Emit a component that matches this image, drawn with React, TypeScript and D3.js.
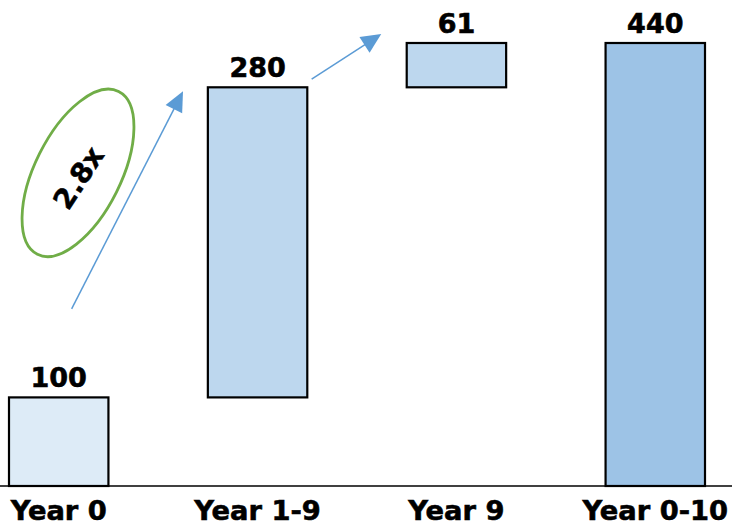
import React from "react";
import * as d3 from "d3";

const categories = ["Year 0", "Year 1-9", "Year 9", "Year 0-10"];
const barBase = [0, 88, 396, 0];
const barTop = [88, 396, 440, 440];
const valueLabels = ["100", "280", "61", "440"];
const barFills = ["#ddebf7", "#bdd7ee", "#bdd7ee", "#9dc3e6"];

// annotation arrows in (category-index, value) space
const arrows = [
  { from: [0.065, 176], to: [0.625, 392] },
  { from: [1.272, 404], to: [1.622, 449] },
];
const ellipseCenter = [0.097, 311];
const multipleLabel = "2.8x";

const W = 732;
const H = 526;

export default function App() {
  const x = d3.scaleBand<string>().domain(categories).range([9, 705]).paddingInner(0.5).paddingOuter(0);
  const y = d3.scaleLinear().domain([0, 440]).range([486, 43]);
  const bw = x.bandwidth();
  const ix = d3
    .scaleLinear()
    .domain([0, categories.length - 1])
    .range([(x(categories[0]) as number) + bw / 2, (x(categories[categories.length - 1]) as number) + bw / 2]);

  const font = "'DejaVu Sans', Verdana, sans-serif";
  const arrowColor = "#5b9bd5";

  const ex = ix(ellipseCenter[0]);
  const ey = y(ellipseCenter[1]);

  return (
    <svg width={W} height={H} style={{ position: "absolute", left: 0, top: 0, background: "#fff" }}>
      <rect x={0} y={0} width={W} height={H} fill="#fff" />
      {categories.map((c, i) => {
        const x0 = x(c) as number;
        const yt = y(barTop[i]);
        const yb = y(barBase[i]);
        return (
          <g key={c}>
            <rect x={x0} y={yt} width={bw} height={yb - yt} fill={barFills[i]} stroke="#000" strokeWidth={2.2} />
            <text
              x={x0 + bw / 2}
              y={yt - 10.5}
              textAnchor="middle"
              fontFamily={font}
              fontWeight="bold"
              fontSize={27}
              fill="#000"
              stroke="#000"
              strokeWidth={0.6}
            >
              {valueLabels[i]}
            </text>
            <text
              x={x0 + bw / 2}
              y={520}
              textAnchor="middle"
              fontFamily={font}
              fontWeight="bold"
              fontSize={27.3}
              fill="#000"
              stroke="#000"
              strokeWidth={0.6}
            >
              {c}
            </text>
          </g>
        );
      })}
      <line x1={0} x2={W} y1={y(0)} y2={y(0)} stroke="#000" strokeWidth={1.6} />

      {arrows.map((a, i) => {
        const x1 = ix(a.from[0]);
        const y1 = y(a.from[1]);
        const x2 = ix(a.to[0]);
        const y2 = y(a.to[1]);
        const dx = x2 - x1;
        const dy = y2 - y1;
        const len = Math.hypot(dx, dy);
        const ux = dx / len;
        const uy = dy / len;
        const hl = 20;
        const hw = 9.3;
        const bx = x2 - ux * hl;
        const by = y2 - uy * hl;
        const pts = [
          [x2, y2],
          [bx - uy * hw, by + ux * hw],
          [bx + uy * hw, by - ux * hw],
        ];
        return (
          <g key={i}>
            <line x1={x1} y1={y1} x2={bx + ux * 2} y2={by + uy * 2} stroke={arrowColor} strokeWidth={1.5} />
            <polygon points={pts.map((p) => p.join(",")).join(" ")} fill={arrowColor} />
          </g>
        );
      })}

      <ellipse
        cx={ex}
        cy={ey}
        rx={91}
        ry={43}
        transform={`rotate(-63.5 ${ex} ${ey})`}
        fill="none"
        stroke="#70ad47"
        strokeWidth={2.8}
      />
      <text
        x={ex + 2}
        y={ey + 6}
        transform={`rotate(-57 ${ex + 2} ${ey + 6})`}
        textAnchor="middle"
        dominantBaseline="middle"
        fontFamily={font}
        fontWeight="bold"
        fontSize={28}
        fill="#000"
        stroke="#000"
        strokeWidth={0.5}
      >
        {multipleLabel}
      </text>
    </svg>
  );
}
